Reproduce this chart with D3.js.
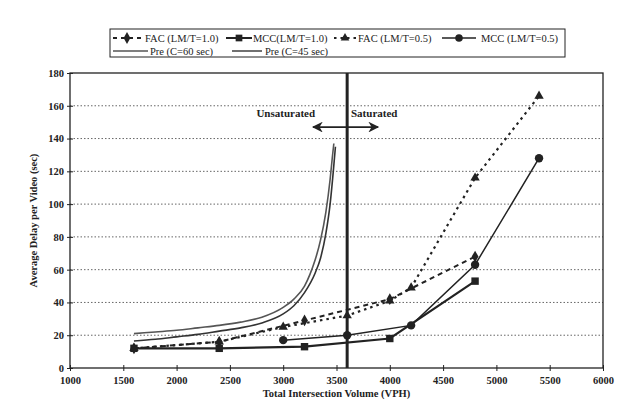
<!DOCTYPE html>
<html><head><meta charset="utf-8">
<script src="https://cdn.jsdelivr.net/npm/d3@7"></script>
<style>
body{margin:0;background:#fff;}
text{font-family:"Liberation Serif","Times New Roman",serif;fill:#222;}
</style></head>
<body><svg id="c" width="631" height="411"></svg>
<script>
// ---- data ----
const xTicks = [1000,1500,2000,2500,3000,3500,4000,4500,5000,5500,6000];
const yTicks = [0,20,40,60,80,100,120,140,160,180];
const facLM10 = [[1600,12],[2400,16],[3200,29],[4000,42],[4800,68]];
const mccLM10 = [[1600,12],[2400,12],[3200,13],[4000,18],[4800,53]];
const facLM05 = [[1600,12],[2400,16],[3000,25],[3600,32],[4000,41],[4200,49],[4800,116],[5400,166]];
const mccLM05 = [[3000,17],[3600,20],[4200,26],[4800,63],[5400,128]];
const pre60 = [[1600,21],[1800,22],[2000,23],[2200,24.5],[2400,26],[2600,28],[2800,31],[3000,37],[3100,42],[3200,50],[3250,57],[3300,66],[3350,78],[3400,95],[3440,115],[3460,128],[3475,137]];
const pre45 = [[1600,16.5],[1800,17.5],[2000,19],[2200,20.5],[2400,22.5],[2600,24.5],[2800,27.5],[3000,33],[3100,38],[3200,46],[3300,58],[3350,67],[3400,82],[3440,100],[3470,120],[3490,135]];
const saturationX = 3600;
const arrowSpan = [3280,3890];
const arrowY = 147;
const legendRow1 = ["FAC (LM/T=1.0)","MCC(LM/T=1.0)","FAC  (LM/T=0.5)","MCC (LM/T=0.5)"];
const legendRow2 = ["Pre (C=60 sec)","Pre (C=45 sec)"];

// ---- layout ----
const svg = d3.select("#c");
const L=70,R=603,T=73,B=368;
const x = d3.scaleLinear().domain([1000,6000]).range([L,R]);
const y = d3.scaleLinear().domain([0,180]).range([B,T]);
const ink="#222";

// gridlines
svg.append("g").selectAll("line").data(yTicks.filter(d=>d>0&&d<180)).join("line")
  .attr("x1",L).attr("x2",R).attr("y1",d=>y(d)).attr("y2",d=>y(d))
  .attr("stroke","#666").attr("stroke-width",1).attr("stroke-dasharray","1.5,2");

// frame
svg.append("rect").attr("x",L).attr("y",T).attr("width",R-L).attr("height",B-T)
  .attr("fill","none").attr("stroke",ink).attr("stroke-width",1.3);

// axes
const xa = svg.append("g").attr("transform",`translate(0,${B})`)
  .call(d3.axisBottom(x).tickValues(xTicks).tickSize(3).tickPadding(6).tickFormat(d3.format("d")));
const ya = svg.append("g").attr("transform",`translate(${L},0)`)
  .call(d3.axisLeft(y).tickValues(yTicks).tickSize(3).tickPadding(3));
[xa,ya].forEach(a=>{
  a.select(".domain").remove();
  a.selectAll("line").attr("stroke",ink);
  a.selectAll("text").attr("font-size","10.5px").attr("font-weight","bold").attr("fill",ink)
   .style("font-family","Liberation Serif");
});
ya.selectAll("line").attr("x2",3).attr("x1",-3);
xa.selectAll("line").attr("y1",-3).attr("y2",3);

svg.append("text").attr("x",(L+R)/2).attr("y",397).attr("text-anchor","middle")
  .attr("font-size","10.5px").attr("font-weight","bold").text("Total Intersection Volume (VPH)");
svg.append("text").attr("transform",`translate(37,${(T+B)/2}) rotate(-90)`).attr("text-anchor","middle")
  .attr("font-size","10.5px").attr("font-weight","bold").text("Average Delay per Video  (sec)");

// saturation line
svg.append("line").attr("x1",x(saturationX)).attr("x2",x(saturationX)).attr("y1",y(0)).attr("y2",y(180))
  .attr("stroke",ink).attr("stroke-width",3);
// arrow
const defs = svg.append("defs");
defs.append("marker").attr("id","ah").attr("viewBox","0 0 10 10").attr("refX",9).attr("refY",5)
  .attr("markerWidth",7).attr("markerHeight",6).attr("orient","auto-start-reverse")
  .append("path").attr("d","M0,0L10,5L0,10L3,5Z").attr("fill",ink);
svg.append("line").attr("x1",x(arrowSpan[0])).attr("x2",x(arrowSpan[1])).attr("y1",y(arrowY)).attr("y2",y(arrowY))
  .attr("stroke",ink).attr("stroke-width",1.8).attr("marker-start","url(#ah)").attr("marker-end","url(#ah)");
svg.append("text").attr("x",x(3280)+2).attr("y",117).attr("text-anchor","end")
  .attr("font-size","11px").attr("font-weight","bold").text("Unsaturated");
svg.append("text").attr("x",x(3880)-26).attr("y",117).attr("text-anchor","start")
  .attr("font-size","11px").attr("font-weight","bold").text("Saturated");

// lines
const line = d3.line().x(d=>x(d[0])).y(d=>y(d[1]));
const curve = d3.line().x(d=>x(d[0])).y(d=>y(d[1])).curve(d3.curveMonotoneX);
svg.append("path").datum(pre60).attr("d",curve).attr("fill","none").attr("stroke","#555").attr("stroke-width",1.6);
svg.append("path").datum(pre45).attr("d",curve).attr("fill","none").attr("stroke","#333").attr("stroke-width",1.6);
svg.append("path").datum(facLM10).attr("d",line).attr("fill","none").attr("stroke",ink).attr("stroke-width",2).attr("stroke-dasharray","5,4");
svg.append("path").datum(facLM05).attr("d",line).attr("fill","none").attr("stroke",ink).attr("stroke-width",2.2).attr("stroke-dasharray","2.5,4");
svg.append("path").datum(mccLM10).attr("d",line).attr("fill","none").attr("stroke",ink).attr("stroke-width",2.2);
svg.append("path").datum(mccLM05).attr("d",line).attr("fill","none").attr("stroke",ink).attr("stroke-width",1.5);

const sym = (type,size)=>d3.symbol().type(type).size(size);
function markers(data,type,size){
  svg.append("g").selectAll("path").data(data).join("path")
    .attr("transform",d=>`translate(${x(d[0])},${y(d[1])})`)
    .attr("d",sym(type,size)).attr("fill",ink);
}
markers(facLM10,d3.symbolDiamond,40);
markers(mccLM10,d3.symbolSquare,55);
markers(facLM05,d3.symbolTriangle,38);
markers(mccLM05,d3.symbolCircle,55);

// legend
const lg = svg.append("g");
lg.append("rect").attr("x",110).attr("y",29).attr("width",455).attr("height",28).attr("fill","#fff").attr("stroke",ink).attr("stroke-width",1);
const r1=38, r2=51;
function legLine(x1,x2,yy,dash,w,col){
  lg.append("line").attr("x1",x1).attr("x2",x2).attr("y1",yy).attr("y2",yy).attr("stroke",col||ink)
    .attr("stroke-width",w).attr("stroke-dasharray",dash||null);
}
function legSym(cx,yy,type,size){
  lg.append("path").attr("transform",`translate(${cx},${yy})`).attr("d",sym(type,size)).attr("fill",ink);
}
const row1 = [
  {x1:113,x2:141,dash:"4,4",w:2,type:d3.symbolDiamond,size:40,tx:145},
  {x1:226,x2:252,dash:null,w:2,type:d3.symbolSquare,size:45,tx:253},
  {x1:334,x2:356,dash:"2.5,4",w:2,type:d3.symbolTriangle,size:32,tx:358},
  {x1:442,x2:476,dash:null,w:1.5,type:d3.symbolCircle,size:45,tx:481}
];
row1.forEach((it,i)=>{
  legLine(it.x1,it.x2,r1,it.dash,it.w);
  legSym((it.x1+it.x2)/2,r1,it.type,it.size);
  lg.append("text").attr("x",it.tx).attr("y",r1+3.5).attr("font-size","10.5px").text(legendRow1[i]);
});
const row2 = [{x1:113,x2:148,tx:150,col:"#555"},{x1:232,x2:262,tx:265,col:"#333"}];
row2.forEach((it,i)=>{
  legLine(it.x1,it.x2,r2,null,1.4,it.col);
  lg.append("text").attr("x",it.tx).attr("y",r2+3.5).attr("font-size","10.5px").text(legendRow2[i]);
});
</script></body></html>
